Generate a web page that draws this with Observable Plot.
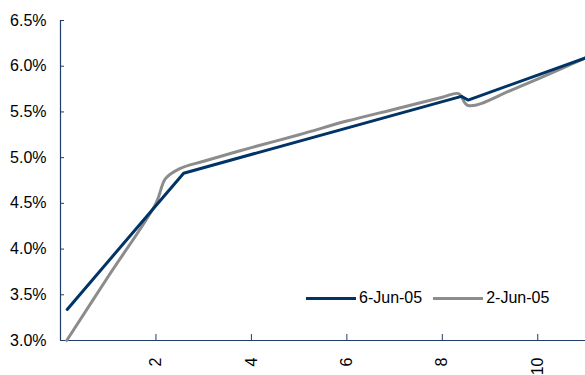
<!DOCTYPE html>
<html>
<head>
<meta charset="utf-8">
<script src="https://cdn.jsdelivr.net/npm/d3@7"></script>
<script src="https://cdn.jsdelivr.net/npm/@observablehq/plot@0.6"></script>
<style>
  body { margin: 0; background: #fff; font-family: "Liberation Sans", Arial, sans-serif; }
  #chart { position: relative; width: 585px; height: 375px; }
  .legend { position: absolute; left: 306px; top: 289px; display: flex; align-items: center; font-size: 16px; color: #000; }
  .legend .item { display: flex; align-items: center; margin-right: 11px; }
  .legend .sw { display: inline-block; width: 50px; height: 3px; margin-right: 3px; }
</style>
</head>
<body>
<div id="chart"></div>
<script>
// Yield curves: maturity (years) vs yield (%)
const maturityJun6 = [0.14, 2.58, 8.40, 8.54, 11];
const yieldJun6    = [3.34, 4.83, 5.67, 5.63, 6.09];

const maturityJun2 = [0.13, 1.0, 2.0, 2.2, 2.5, 3.0, 4.0, 5.0, 6.0, 7.0, 8.0, 8.34, 8.54, 9.5, 11];
const yieldJun2    = [3.00, 3.70, 4.50, 4.77, 4.88, 4.96, 5.11, 5.25, 5.40, 5.53, 5.66, 5.70, 5.57, 5.75, 6.09];

const seriesNames  = ["6-Jun-05", "2-Jun-05"];
const seriesColors = ["#003366", "#8c8c8c"];

const yTicks = [3.0, 3.5, 4.0, 4.5, 5.0, 5.5, 6.0, 6.5];
const xTicks = [2, 4, 6, 8, 10];

const axisColor = "#1f3d6b";

const jun6 = maturityJun6.map((m, i) => ({ m, y: yieldJun6[i] }));
const jun2 = maturityJun2.map((m, i) => ({ m, y: yieldJun2[i] }));

const chart = Plot.plot({
  width: 585,
  height: 375,
  marginLeft: 60,
  marginRight: 0,
  marginTop: 20,
  marginBottom: 35,
  style: { fontFamily: "Liberation Sans, Arial, sans-serif", fontSize: "16px", color: "#000", background: "#fff", overflow: "hidden" },
  x: { domain: [0, 11] },
  y: { domain: [3.0, 6.5] },
  marks: [
    Plot.axisY({
      ticks: yTicks, tickSize: -4, tickPadding: 18, stroke: axisColor,
      tickFormat: d => d.toFixed(1) + "%", label: null, fill: "#000"
    }),
    Plot.axisX({
      ticks: xTicks, tickSize: -6, tickPadding: 23, tickRotate: -90, stroke: axisColor,
      label: null, fill: "#000"
    }),
    Plot.ruleY([3.0], { stroke: axisColor, strokeWidth: 1.2 }),
    Plot.ruleX([0], { stroke: axisColor, strokeWidth: 1.2 }),
    Plot.line(jun2, { x: "m", y: "y", stroke: seriesColors[1], strokeWidth: 3, curve: "catmull-rom" }),
    Plot.line(jun6, { x: "m", y: "y", stroke: seriesColors[0], strokeWidth: 3, curve: "linear" })
  ]
});

const root = document.getElementById("chart");
root.appendChild(chart);

const legend = document.createElement("div");
legend.className = "legend";
seriesNames.forEach((name, i) => {
  const item = document.createElement("div");
  item.className = "item";
  const sw = document.createElement("span");
  sw.className = "sw";
  sw.style.background = seriesColors[i];
  const label = document.createElement("span");
  label.textContent = name;
  item.appendChild(sw);
  item.appendChild(label);
  legend.appendChild(item);
});
root.appendChild(legend);
</script>
</body>
</html>
